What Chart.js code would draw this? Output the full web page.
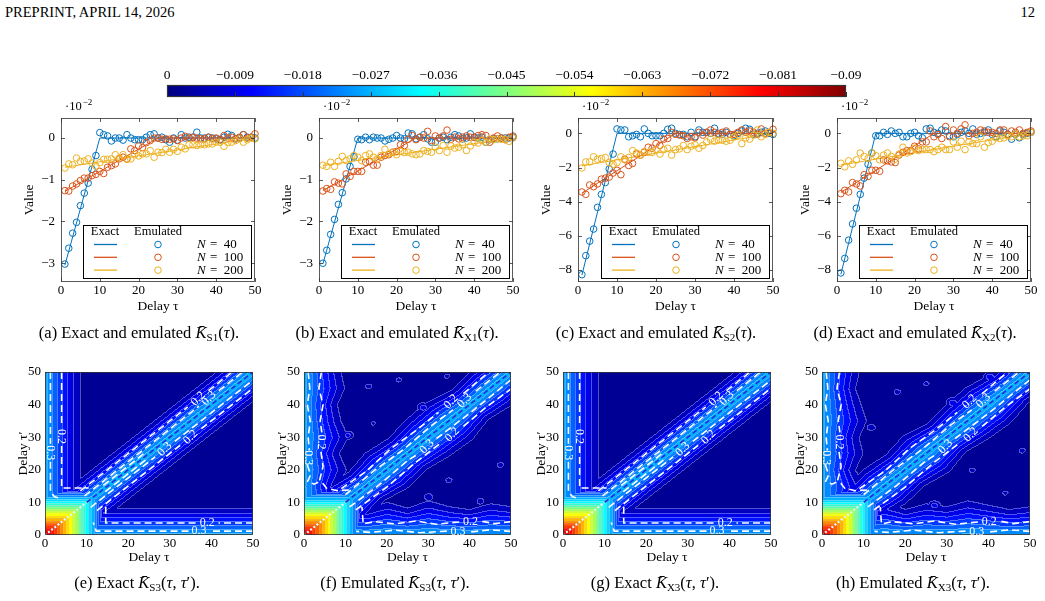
<!DOCTYPE html>
<html>
<head>
<meta charset="utf-8">
<title>Exact and emulated K statistics</title>
<script src="https://cdn.jsdelivr.net/npm/chart.js@4.4.1/dist/chart.umd.min.js"></script>
<style>
  html, body { margin: 0; padding: 0; background: #fff; }
  body { position: relative; width: 1045px; height: 601px; overflow: hidden;
         font-family: "Liberation Serif", "Times New Roman", serif; color: #000; }
  canvas { position: absolute; }
  .hdr { position: absolute; top: 4px; font-size: 14.5px; white-space: nowrap; }
  .cap { position: absolute; font-size: 16.5px; line-height: 18px; white-space: nowrap; transform: translateX(-50%); }
  .cap sub { font-size: 11px; vertical-align: -3px; line-height: 0; }
</style>
</head>
<body>
<div class="hdr" style="left:5px">PREPRINT, APRIL 14, 2026</div>
<div class="hdr" style="right:10px">12</div>

<canvas id="cbar"></canvas>
<canvas id="ks1"></canvas>
<canvas id="kx1"></canvas>
<canvas id="ks2"></canvas>
<canvas id="kx2"></canvas>
<canvas id="ks3e"></canvas>
<canvas id="ks3m"></canvas>
<canvas id="kx3e"></canvas>
<canvas id="kx3m"></canvas>

<div class="cap" style="left:139px;top:324px">(a) Exact and emulated <i>K̄</i><sub>S1</sub>(<i>τ</i>).</div>
<div class="cap" style="left:397px;top:324px">(b) Exact and emulated <i>K̄</i><sub>X1</sub>(<i>τ</i>).</div>
<div class="cap" style="left:656px;top:324px">(c) Exact and emulated <i>K̄</i><sub>S2</sub>(<i>τ</i>).</div>
<div class="cap" style="left:915px;top:324px">(d) Exact and emulated <i>K̄</i><sub>X2</sub>(<i>τ</i>).</div>
<div class="cap" style="left:137px;top:574px">(e) Exact <i>K̄</i><sub>S3</sub>(<i>τ</i>, <i>τ</i>′).</div>
<div class="cap" style="left:395px;top:574px">(f) Emulated <i>K̄</i><sub>S3</sub>(<i>τ</i>, <i>τ</i>′).</div>
<div class="cap" style="left:655px;top:574px">(g) Exact <i>K̄</i><sub>X3</sub>(<i>τ</i>, <i>τ</i>′).</div>
<div class="cap" style="left:913px;top:574px">(h) Emulated <i>K̄</i><sub>X3</sub>(<i>τ</i>, <i>τ</i>′).</div>

<script>
// ---------- axes / ticks ----------
const tau = Array.from({length: 50}, (_, i) => i + 1);
const delayTicks = [0, 10, 20, 30, 40, 50];
const smallTicks = [-3, -2, -1, 0];
const largeTicks = [-8, -6, -4, -2, 0];
const cbarTicks = [0, -0.009, -0.018, -0.027, -0.036, -0.045, -0.054, -0.063, -0.072, -0.081, -0.09];
const sampleSizes = [40, 100, 200];

// ---------- emulated values (x 1e-2), tau = 1..50 ----------
const ks1Blue = [-3.02,-2.64,-2.28,-2.02,-1.62,-1.32,-1.08,-0.75,-0.42,0.13,
  0.08,0.05,-0.07,0,0,-0.05,0.08,0,-0.04,-0.04,
  -0.04,0.02,0.08,0.10,0,0.02,-0.04,-0.10,0,-0.05,
  0.08,0,0.02,0.02,0.14,0,0,0.02,0,-0.02,
  -0.04,0.02,0.09,0.06,-0.02,0,0.08,0.02,0.02,0];
const ks1Red = [-1.26,-1.27,-1.15,-1.10,-1.02,-0.96,-0.96,-0.90,-0.87,-0.80,
  -0.85,-0.70,-0.66,-0.62,-0.50,-0.46,-0.50,-0.26,-0.30,-0.19,
  -0.23,-0.11,-0.06,0,0,-0.03,-0.02,-0.03,-0.02,-0.06,
  0,0.04,0,0.02,0,-0.02,-0.02,0.02,-0.02,0,
  -0.03,0.06,0,0.02,-0.02,0.02,0.08,0,0.02,0.10];
const ks1Yellow = [-0.72,-0.62,-0.64,-0.48,-0.56,-0.55,-0.50,-0.60,-0.67,-0.59,
  -0.51,-0.51,-0.50,-0.40,-0.48,-0.40,-0.51,-0.50,-0.40,-0.43,
  -0.38,-0.38,-0.30,-0.46,-0.34,-0.35,-0.27,-0.34,-0.27,-0.32,
  -0.22,-0.26,-0.16,-0.16,-0.18,-0.16,-0.16,-0.14,-0.14,-0.10,
  -0.10,-0.20,-0.11,-0.10,-0.06,-0.02,-0.10,-0.04,0,-0.02];

const kx1Blue = [-3.00,-2.69,-2.31,-1.95,-1.59,-1.31,-0.98,-0.68,-0.45,-0.03,
  -0.04,0.02,-0.04,0.02,0,0,-0.07,-0.03,0,0.06,
  0,-0.02,0.12,0.10,-0.02,0.02,0.08,-0.02,-0.10,-0.10,
  0,0.02,-0.04,0.02,0.08,0.05,-0.02,0,0.10,0.02,
  0,0.02,-0.10,-0.04,-0.02,-0.02,0,0,0,0.02];
const kx1Red = [-1.27,-1.21,-1.23,-1.05,-1.08,-1.10,-0.86,-0.92,-0.80,-0.80,
  -0.80,-0.58,-0.56,-0.65,-0.65,-0.46,-0.42,-0.40,-0.34,-0.32,
  -0.16,-0.18,-0.03,0.06,-0.04,0.02,0,0.16,-0.06,0.05,
  0,0.05,0.19,-0.03,0.02,-0.02,0.02,0.05,0.02,0.02,
  0.06,0.08,0.06,-0.10,0,0.05,0,-0.04,0.02,0.05];
const kx1Yellow = [-0.65,-0.68,-0.58,-0.68,-0.56,-0.44,-0.54,-0.50,-0.42,-0.46,
  -0.54,-0.42,-0.38,-0.46,-0.50,-0.42,-0.27,-0.38,-0.34,-0.40,
  -0.32,-0.35,-0.34,-0.38,-0.40,-0.38,-0.30,-0.32,-0.34,-0.22,
  -0.30,-0.18,-0.34,-0.19,-0.24,-0.22,-0.16,-0.30,-0.19,-0.10,
  -0.12,-0.06,-0.10,-0.03,-0.04,-0.02,-0.03,-0.04,-0.08,0];

const ks2Blue = [-8.27,-7.16,-6.31,-5.60,-4.33,-3.57,-2.88,-2.08,-1.21,0.26,
  0.20,0.20,-0.20,-0.14,-0.06,-0.20,0.26,0,-0.14,-0.14,
  -0.14,0,0.24,0.30,0,-0.06,-0.06,-0.20,0.06,-0.20,
  0.20,0.06,0.06,0,0.30,0,-0.06,0.06,-0.06,-0.14,
  0,0.14,0.30,0.24,-0.06,0,0.06,0.14,0,-0.06];
const ks2Red = [-3.43,-3.57,-3.02,-3.12,-2.96,-2.68,-2.62,-2.56,-2.32,-2.16,
  -2.42,-1.51,-1.88,-1.76,-1.21,-1.27,-1.11,-0.81,-0.87,-0.60,
  -0.71,-0.34,-0.30,0.06,-0.06,-0.10,-0.14,-0.30,-0.20,-0.26,
  0.06,-0.10,0.06,0.20,0.06,-0.06,0.06,0.14,-0.06,-0.06,
  0.06,0.20,0.06,0.14,0.06,-0.06,0.26,0,0.06,0.24];
const ks2Yellow = [-2.02,-1.67,-1.67,-1.37,-1.51,-1.47,-1.41,-1.71,-1.81,-1.71,
  -1.37,-1.55,-1.41,-1.01,-1.15,-1.27,-1.07,-1.11,-1.11,-0.95,
  -1.21,-0.95,-0.87,-1.27,-0.95,-0.91,-0.71,-0.95,-0.75,-0.67,
  -0.87,-0.71,-0.50,-0.34,-0.46,-0.40,-0.40,-0.46,-0.40,-0.20,
  -0.10,-0.60,-0.26,-0.34,-0.10,0.20,-0.20,-0.06,0.06,0];

const kx2Blue = [-8.17,-7.32,-6.25,-5.30,-4.38,-3.57,-2.62,-1.81,-1.15,-0.14,
  -0.14,0.06,-0.06,0.14,0,0.06,-0.20,-0.20,0,0.06,
  -0.14,-0.26,0.26,0.30,0.06,0,0.20,0.14,-0.14,-0.20,
  -0.06,0.06,0.14,0,0.26,-0.06,0,0.06,0.20,-0.06,
  -0.20,0.14,0.06,-0.06,-0.34,-0.06,-0.26,-0.06,0,0.06];
const kx2Red = [-3.53,-3.33,-3.43,-2.88,-2.96,-3.08,-2.42,-2.52,-2.16,-2.16,
  -2.22,-1.55,-1.61,-1.67,-1.71,-1.27,-1.11,-1.01,-1.01,-0.75,
  -0.91,-0.50,-0.50,0.14,-0.20,-0.06,-0.30,0.40,-0.20,0.20,
  0,0.26,0.50,-0.14,0,0.06,0.20,0.14,0.06,0.06,
  0,0.20,0.20,-0.06,0.14,0.06,0.20,0,0.06,0.14];
const kx2Yellow = [-1.75,-1.96,-1.61,-1.81,-1.55,-1.15,-1.35,-1.47,-1.15,-1.31,
  -1.55,-1.27,-1.15,-1.35,-1.51,-1.21,-0.81,-1.15,-1.07,-0.87,
  -1.01,-0.95,-0.95,-0.95,-1.07,-0.95,-0.81,-0.95,-0.95,-0.50,
  -0.81,-0.46,-0.95,-0.50,-0.60,-0.60,-0.20,-0.81,-0.54,-0.46,
  -0.26,-0.30,-0.26,-0.14,-0.20,-0.06,-0.20,-0.14,-0.14,0.06];

// ---------- exact curves (ramps), knots in tau ----------
const exactKnots40 = [1, 10, 50];
const exactKnots100 = [1, 25, 50];
const exactKnots200 = [1, 50];
const ks1Exact = [[-3.05, 0, 0], [-1.28, 0, 0], [-0.70, 0]];
const kx1Exact = [[-3.02, 0, 0], [-1.26, 0, 0], [-0.66, 0]];
const ks2Exact = [[-8.30, 0, 0], [-3.50, 0, 0], [-1.90, 0]];
const kx2Exact = [[-8.25, 0, 0], [-3.45, 0, 0], [-1.85, 0]];

// ---------- third-order maps: profiles ----------
const bandDist = [0,1,2,3,4,5,6,7,8,9,10,11,12];          // |tau - tau'|
const bandExact = [-0.028,-0.025,-0.022,-0.019,-0.016,-0.013,-0.010,-0.0075,-0.0052,-0.0034,-0.0018,-0.0005,0];
const bandEmu   = [-0.027,-0.025,-0.022,-0.019,-0.0163,-0.0135,-0.0108,-0.0083,-0.006,-0.0042,-0.0026,-0.0011,0];
const edgeDist = [0,1,2,3,4,5,6,7,8,9,10,11];               // min(tau, tau')
const edgeExact = [-0.027,-0.024,-0.021,-0.018,-0.015,-0.012,-0.009,-0.0065,-0.0042,-0.0024,-0.0009,0];
const edgeEmu   = [-0.026,-0.024,-0.021,-0.018,-0.0152,-0.0125,-0.0098,-0.0073,-0.0051,-0.0033,-0.0017,0];
const cornerDist = [0,1,2,3,4,5,6,7,8,9,10,11,12,13,14];   // max(tau, tau')
const cornerExact = [-0.084,-0.081,-0.077,-0.072,-0.067,-0.062,-0.057,-0.052,-0.046,-0.040,-0.034,-0.029,-0.024,-0.017,0];
const cornerEmu   = [-0.082,-0.079,-0.075,-0.071,-0.066,-0.061,-0.056,-0.051,-0.045,-0.039,-0.033,-0.028,-0.023,-0.016,0];
// irregularity of the emulated maps
const warpAt = [0,5,10,15,20,25,30,35,40,45,50];
const edgeWarpF = [1.0,1.0,1.05,0.9,1.15,0.95,1.2,1.0,0.9,1.1,1.0];
const bandWarpF = [1.0,1.0,1.1,0.92,1.12,1.0,1.15,1.2,0.95,1.08,1.0];
const edgeWarpH = [1.0,1.0,0.95,1.15,0.9,1.1,1.0,1.2,1.05,0.9,1.0];
const bandWarpH = [1.0,1.05,0.95,1.1,1.0,1.18,0.95,1.1,1.15,0.95,1.0];
const bumpTauF  = [15.5,22.8,10.8,16.7,34.9,42.4,47.4,28.4,34.5,30.0];
const bumpTauPF = [45.7,47.7,30.8,34.4,16.9,10.8,21.6,39.5,48.8,12.0];
const bumpDepthF = [-0.005,-0.0045,-0.005,-0.0042,-0.005,-0.0045,-0.005,-0.0042,-0.0045,-0.0048];
const bumpTauH  = [18.0,25.0,12.0,36.0,44.0,48.0,31.0,40.0,27.0];
const bumpTauPH = [44.0,46.5,33.0,20.0,13.0,26.0,41.0,49.0,9.5];
const bumpDepthH = [-0.005,-0.0045,-0.005,-0.0048,-0.0045,-0.005,-0.0042,-0.0045,-0.0048];

// white dashed contour overlays (tau, tau')
const contourExact = [
  [[1.3,50],[1.3,28]], [[1.3,22.5],[1.3,13.5],[2.2,11.8],[3.8,11.2]],
  [[4,50],[4,33.2]], [[4,27.3],[4,14.4],[10.5,14.4]],
  [[50,3.7],[41.7,3.7]], [[36.2,3.7],[14.6,3.7],[14.6,9.2]],
  [[50,1.2],[39.5,1.2]], [[34.5,1.2],[12.3,1.2],[11.6,3.8]],
  [[8.5,13.5],[34.3,39.3]], [[39.3,44.3],[45,50]],
  [[9.5,12],[37,39.5]], [[41.8,44.3],[47.5,50]],
  [[11,8.5],[26.5,24]], [[31.2,28.7],[50,47.5]],
  [[12.5,7.5],[32.5,27.5]], [[37.6,32.6],[50,45]],
  [[14,15.2],[24,25.2]], [[14.5,13.3],[24.5,23.3]]
];
const contourEmu = [
  [[1.0,50],[1.4,45],[0.8,40],[1.5,35],[1.0,30],[1.3,26]],
  [[0.8,21.5],[1.6,18.5],[0.9,16.5],[2.4,15.6],[3.5,16.2]],
  [[4.2,50],[3.6,45],[4.6,40],[3.9,35],[4.3,31.5]],
  [[4.1,25.5],[4.6,21],[3.8,17],[5.5,14.3],[8,13.6],[10.8,13.8]],
  [[50,4.1],[46,3.5],[43,4.2]],
  [[37.5,4.0],[32,3.3],[27,4.3],[22,3.4],[17,4.1],[14.3,3.4],[14.0,8.6]],
  [[50,1.1],[45,1.6],[40,0.9]],
  [[34.5,1.2],[28,0.7],[22,1.5],[16,0.8],[12.6,1.1]],
  [[9,14.2],[15,19.5],[21,26.5],[27,32],[32.5,37.6]],
  [[38.5,43.4],[44,49.3],[45,50]],
  [[10,12.4],[17,19.8],[24,26.2],[31,33.8],[36,38.4]],
  [[41.5,44.1],[48,50.6]],
  [[11,8.6],[18,15.2],[25,22.8],[27.5,24.8]],
  [[32,29.6],[40,37.3],[50,47.6]],
  [[12.5,7.7],[20,14.7],[27,22.3],[33,28.2]],
  [[38.5,33.3],[44,39.2],[50,44.8]]
];
const labelsExact = [
  {x: 1.3, y: 25.2, t: '0.3', r: 90}, {x: 4, y: 30.2, t: '0.2', r: 90},
  {x: 39, y: 3.7, t: '0.2', r: 0}, {x: 37, y: 1.2, t: '0.3', r: 0},
  {x: 36.8, y: 41.8, t: '0.2', r: -45}, {x: 39.4, y: 41.9, t: '0.3', r: -45},
  {x: 28.8, y: 26.3, t: '0.3', r: -45}, {x: 35, y: 30, t: '0.2', r: -45}
];
const labelsEmu = [
  {x: 1.1, y: 23.7, t: '0.3', r: 90}, {x: 4.2, y: 28.5, t: '0.2', r: 90},
  {x: 40.2, y: 4.0, t: '0.2', r: 0}, {x: 37.2, y: 1.1, t: '0.3', r: 0},
  {x: 35.5, y: 40.9, t: '0.2', r: -45}, {x: 38.8, y: 41.2, t: '0.3', r: -45},
  {x: 29.7, y: 27.1, t: '0.3', r: -45}, {x: 35.8, y: 30.8, t: '0.2', r: -45}
];

// ---------- styling ----------
const serif = '"Liberation Serif", "Times New Roman", serif';
const tickFont = {family: serif, size: 13};
const titleFont = {family: serif, size: 13.5};
const seriesColors = ['#0072BD', '#D95319', '#EDB120'];
const nLevels = 25, levelStep = 0.09 / 25, bumpRadius = 1.4;
const minus = v => (v < 0 ? '\u2212' + String(-v) : String(v));

const jetStops = [0, 0.125, 0.375, 0.625, 0.875, 1];
const jetRGB = [[0,0,128],[0,0,255],[0,255,255],[255,255,0],[255,0,0],[128,0,0]];
function jet(t) {
  t = Math.max(0, Math.min(1, t));
  for (let i = 1; i < jetStops.length; i++) {
    if (t <= jetStops[i]) {
      const f = (t - jetStops[i - 1]) / (jetStops[i] - jetStops[i - 1]);
      return jetRGB[i - 1].map((c, k) => Math.round(c + f * (jetRGB[i][k] - c)));
    }
  }
  return jetRGB[jetRGB.length - 1];
}

function interp(xs, ys, x) {
  if (x <= xs[0]) return ys[0];
  for (let i = 1; i < xs.length; i++) {
    if (x <= xs[i]) return ys[i - 1] + (x - xs[i - 1]) / (xs[i] - xs[i - 1]) * (ys[i] - ys[i - 1]);
  }
  return ys[ys.length - 1];
}

function fieldAt(f, a, b) {
  const d = Math.abs(a - b), m = Math.min(a, b), M = Math.max(a, b);
  const bw = f.bandWarp ? interp(warpAt, f.bandWarp, (a + b) / 2) : 1;
  const ew = f.edgeWarp ? interp(warpAt, f.edgeWarp, M) : 1;
  let v = Math.min(interp(bandDist, f.band, d / bw), interp(edgeDist, f.edge, m / ew), interp(cornerDist, f.corner, M));
  if (f.bumps) {
    f.bumps[0].forEach((bt, k) => {
      const r2 = ((a - bt) ** 2 + (b - f.bumps[1][k]) ** 2) / (bumpRadius * bumpRadius);
      if (r2 < 1) v += f.bumps[2][k] * (1 - r2);
    });
  }
  return v;
}

// ---------- plugins ----------
const framePlugin = {
  id: 'frame',
  afterDatasetsDraw(chart, args, opts) {
    const {ctx, chartArea: a, scales: {x, y}} = chart;
    ctx.save();
    ctx.strokeStyle = '#333';
    ctx.lineWidth = 0.8;
    if (opts.ticks) {
      ctx.beginPath();
      x.ticks.forEach(t => {
        const px = Math.round(x.getPixelForValue(t.value)) + 0.5;
        ctx.moveTo(px, a.bottom); ctx.lineTo(px, a.bottom - 4);
        ctx.moveTo(px, a.top); ctx.lineTo(px, a.top + 4);
      });
      y.ticks.forEach(t => {
        const py = Math.round(y.getPixelForValue(t.value)) + 0.5;
        ctx.moveTo(a.left, py); ctx.lineTo(a.left + 4, py);
        ctx.moveTo(a.right, py); ctx.lineTo(a.right - 4, py);
      });
      ctx.stroke();
    }
    ctx.strokeRect(a.left + 0.5, a.top + 0.5, a.right - a.left - 1, a.bottom - a.top - 1);
    ctx.restore();
  }
};

const exponentPlugin = {
  id: 'exponent',
  afterDraw(chart) {
    const {ctx, chartArea: a} = chart;
    ctx.save();
    ctx.fillStyle = '#000';
    ctx.textBaseline = 'alphabetic';
    ctx.font = '12.5px ' + serif;
    ctx.fillText('\u00b710', a.left + 4, a.top - 8);
    const w = ctx.measureText('\u00b710').width;
    ctx.font = '9px ' + serif;
    ctx.fillText('\u22122', a.left + 4 + w + 1, a.top - 13);
    ctx.restore();
  }
};

const tableLegendPlugin = {
  id: 'tableLegend',
  afterDatasetsDraw(chart, args, opts) {
    const {ctx, chartArea: a} = chart;
    const w = 168, h = 53;
    const x0 = Math.round(a.right - 4 - w), y0 = Math.round(a.bottom - 4 - h);
    ctx.save();
    ctx.fillStyle = '#fff';
    ctx.fillRect(x0, y0, w, h);
    ctx.strokeStyle = '#000';
    ctx.lineWidth = 1;
    ctx.strokeRect(x0 + 0.5, y0 + 0.5, w, h);
    ctx.fillStyle = '#000';
    ctx.textBaseline = 'middle';
    ctx.textAlign = 'center';
    ctx.font = '12.5px ' + serif;
    ctx.fillText('Exact', x0 + 22, y0 + 6.5);
    ctx.fillText('Emulated', x0 + 75, y0 + 6.5);
    opts.sizes.forEach((n, i) => {
      const yy = y0 + 19.5 + i * 12.8;
      ctx.strokeStyle = opts.colors[i];
      ctx.lineWidth = 1.3;
      ctx.beginPath(); ctx.moveTo(x0 + 11, yy); ctx.lineTo(x0 + 34, yy); ctx.stroke();
      ctx.lineWidth = 1;
      ctx.beginPath(); ctx.arc(x0 + 75, yy, 3.3, 0, Math.PI * 2); ctx.stroke();
      ctx.textAlign = 'left';
      ctx.fillStyle = '#000';
      ctx.font = 'italic 13px ' + serif;
      ctx.fillText('N', x0 + 114, yy);
      const nw = ctx.measureText('N').width;
      ctx.font = '13px ' + serif;
      ctx.fillText(' =  ' + n, x0 + 114 + nw + 1, yy);
      ctx.textAlign = 'center';
    });
    ctx.restore();
  }
};

const heatmapPlugin = {
  id: 'heatmap',
  beforeDatasetsDraw(chart, args, opts) {
    const {ctx, chartArea: a, scales: {x, y}} = chart;
    const w = Math.round(a.right - a.left), h = Math.round(a.bottom - a.top);
    const lev = new Int16Array(w * h);
    for (let j = 0; j < h; j++) {
      const tp = y.getValueForPixel(a.top + j + 0.5);
      for (let i = 0; i < w; i++) {
        const t = x.getValueForPixel(a.left + i + 0.5);
        const v = fieldAt(opts.field, t, tp);
        lev[j * w + i] = Math.max(0, Math.min(nLevels - 1, Math.floor(-v / levelStep)));
      }
    }
    const off = document.createElement('canvas');
    off.width = w; off.height = h;
    const octx = off.getContext('2d');
    const img = octx.createImageData(w, h);
    const lineRGB = [195, 210, 255];
    for (let j = 0; j < h; j++) {
      for (let i = 0; i < w; i++) {
        const k = j * w + i, L = lev[k];
        let c = jet((L + 0.5) / nLevels);
        const edge = (i > 0 && lev[k - 1] !== L) || (j > 0 && lev[k - w] !== L);
        if (edge) {
          const al = L < 12 ? 0.4 : 0.15;
          c = c.map((cc, q) => Math.round(cc * (1 - al) + lineRGB[q] * al));
        }
        img.data[k * 4] = c[0]; img.data[k * 4 + 1] = c[1]; img.data[k * 4 + 2] = c[2]; img.data[k * 4 + 3] = 255;
      }
    }
    octx.putImageData(img, 0, 0);
    ctx.drawImage(off, Math.round(a.left), Math.round(a.top));
  }
};

const contourLabelPlugin = {
  id: 'contourLabels',
  afterDatasetsDraw(chart, args, opts) {
    const {ctx, scales: {x, y}} = chart;
    ctx.save();
    ctx.fillStyle = '#fff';
    ctx.font = '12px ' + serif;
    ctx.textAlign = 'center';
    ctx.textBaseline = 'middle';
    opts.labels.forEach(l => {
      ctx.save();
      ctx.translate(x.getPixelForValue(l.x), y.getPixelForValue(l.y));
      ctx.rotate(l.r * Math.PI / 180);
      ctx.fillText(l.t, 0, 0);
      ctx.restore();
    });
    ctx.restore();
  }
};

const colorbarPlugin = {
  id: 'colorbar',
  beforeDatasetsDraw(chart) {
    const {ctx, chartArea: a, scales: {x}} = chart;
    ctx.save();
    for (let px = Math.round(a.left); px < Math.round(a.right); px++) {
      const c = jet(x.getValueForPixel(px + 0.5) / -0.09);
      ctx.fillStyle = 'rgb(' + c.join(',') + ')';
      ctx.fillRect(px, a.top, 1, a.bottom - a.top);
    }
    ctx.strokeStyle = '#333';
    ctx.lineWidth = 1;
    ctx.beginPath();
    x.ticks.forEach(t => {
      const px = Math.round(x.getPixelForValue(t.value)) + 0.5;
      ctx.moveTo(px, a.bottom); ctx.lineTo(px, a.bottom - 5);
    });
    ctx.stroke();
    ctx.lineWidth = 1.2;
    ctx.strokeRect(a.left + 0.5, a.top + 0.5, a.right - a.left - 1, a.bottom - a.top - 1);
    ctx.restore();
  }
};

// ---------- builders ----------
function placeCanvas(id, box, pad) {
  const cv = document.getElementById(id);
  cv.width = box.w + pad.l + pad.r;
  cv.height = box.h + pad.t + pad.b;
  cv.style.left = (box.l - pad.l) + 'px';
  cv.style.top = (box.t - pad.t) + 'px';
  return cv;
}

function axis(ticks, extra) {
  return Object.assign({
    type: 'linear',
    afterBuildTicks: s => { s.ticks = ticks.map(v => ({value: v})); },
    grid: {display: false, drawTicks: false},
    border: {display: false}
  }, extra);
}

function lineChart(id, box, yMin, yMax, yTicks, emulated, exact) {
  const pad = {l: 62, t: 26, r: 14, b: 42};
  const cv = placeCanvas(id, box, pad);
  const knots = [exactKnots40, exactKnots100, exactKnots200];
  const datasets = [];
  [2, 1, 0].forEach(k => datasets.push({
    data: tau.map((t, i) => ({x: t, y: emulated[k][i]})),
    showLine: false, pointRadius: 3.3, pointBorderWidth: 1, borderWidth: 1,
    borderColor: seriesColors[k], backgroundColor: 'rgba(0,0,0,0)', clip: false
  }));
  [2, 1, 0].forEach(k => datasets.push({
    data: knots[k].map((t, i) => ({x: t, y: exact[k][i]})),
    showLine: true, pointRadius: 0, borderWidth: 1, borderColor: seriesColors[k], clip: false
  }));
  return new Chart(cv, {
    type: 'scatter',
    data: {datasets},
    options: {
      responsive: false, animation: false, devicePixelRatio: 1,
      layout: {padding: {left: 0, top: pad.t, right: pad.r, bottom: 0}},
      plugins: {legend: {display: false}, tooltip: {enabled: false},
        frame: {ticks: true}, tableLegend: {sizes: sampleSizes, colors: seriesColors}},
      scales: {
        x: axis(delayTicks, {min: 0, max: 50,
          afterFit: s => { s.height = pad.b; },
          ticks: {font: tickFont, color: '#000', padding: 1, maxRotation: 0, autoSkip: false},
          title: {display: true, text: 'Delay τ', font: titleFont, color: '#000', padding: {top: 0, bottom: 9}}}),
        y: axis(yTicks, {min: yMin, max: yMax,
          afterFit: s => { s.width = pad.l; },
          ticks: {font: tickFont, color: '#000', padding: 6, autoSkip: false, callback: v => minus(v)},
          title: {display: true, text: 'Value', font: titleFont, color: '#000', padding: {top: 22, bottom: 0}}})
      }
    },
    plugins: [framePlugin, tableLegendPlugin, exponentPlugin]
  });
}

function heatChart(id, box, field, contours, labels) {
  const pad = {l: 50, t: 14, r: 14, b: 42};
  const cv = placeCanvas(id, box, pad);
  const datasets = contours.map(path => ({
    data: path.map(p => ({x: p[0], y: p[1]})),
    showLine: true, pointRadius: 0, borderWidth: 1.6, borderColor: '#fff', borderDash: [7, 4]
  }));
  datasets.push({data: [{x: 10, y: 10}, {x: 50, y: 50}], showLine: true, pointRadius: 0,
    borderWidth: 1.6, borderColor: '#2a2ad8', borderDash: [5, 3]});
  datasets.push({data: [{x: 0, y: 0}, {x: 10, y: 10}], showLine: true, pointRadius: 0,
    borderWidth: 2.2, borderColor: '#d8ffff', borderDash: [2, 2]});
  return new Chart(cv, {
    type: 'scatter',
    data: {datasets},
    options: {
      responsive: false, animation: false, devicePixelRatio: 1,
      layout: {padding: {left: 0, top: pad.t, right: pad.r, bottom: 0}},
      plugins: {legend: {display: false}, tooltip: {enabled: false},
        frame: {ticks: false}, heatmap: {field}, contourLabels: {labels}},
      scales: {
        x: axis(delayTicks, {min: 0, max: 50,
          afterFit: s => { s.height = pad.b; },
          ticks: {font: tickFont, color: '#000', padding: 1, maxRotation: 0, autoSkip: false},
          title: {display: true, text: 'Delay τ', font: titleFont, color: '#000', padding: {top: 0, bottom: 11}}}),
        y: axis(delayTicks, {min: 0, max: 50,
          afterFit: s => { s.width = pad.l; },
          ticks: {font: tickFont, color: '#000', padding: 4, autoSkip: false},
          title: {display: true, text: 'Delay τ′', font: titleFont, color: '#000', padding: {top: 20, bottom: 0}}})
      }
    },
    plugins: [heatmapPlugin, framePlugin, contourLabelPlugin]
  });
}

// ---------- colour bar ----------
(function () {
  const box = {l: 167, t: 85, w: 679, h: 12};
  const pad = {l: 20, t: 24, r: 24, b: 4};
  const cv = placeCanvas('cbar', box, pad);
  new Chart(cv, {
    type: 'scatter',
    data: {datasets: []},
    options: {
      responsive: false, animation: false, devicePixelRatio: 1,
      layout: {padding: {left: pad.l, top: 0, right: pad.r, bottom: pad.b}},
      plugins: {legend: {display: false}, tooltip: {enabled: false}},
      scales: {
        x: axis(cbarTicks, {position: 'top', min: -0.09, max: 0, reverse: true,
          afterFit: s => { s.height = pad.t; },
          ticks: {font: {family: serif, size: 13.5}, color: '#000', padding: 1, maxRotation: 0, autoSkip: false, callback: v => minus(v)}}),
        y: {display: false, min: 0, max: 1}
      }
    },
    plugins: [colorbarPlugin]
  });
})();

// ---------- panels ----------
lineChart('ks1', {l: 61, t: 118, w: 194, h: 164}, -3.45, 0.48, smallTicks, [ks1Blue, ks1Red, ks1Yellow], ks1Exact);
lineChart('kx1', {l: 319, t: 118, w: 194, h: 164}, -3.45, 0.48, smallTicks, [kx1Blue, kx1Red, kx1Yellow], kx1Exact);
lineChart('ks2', {l: 578, t: 118, w: 195, h: 164}, -8.7, 0.9, largeTicks, [ks2Blue, ks2Red, ks2Yellow], ks2Exact);
lineChart('kx2', {l: 837, t: 118, w: 194, h: 164}, -8.7, 0.9, largeTicks, [kx2Blue, kx2Red, kx2Yellow], kx2Exact);

const fieldExact = {band: bandExact, edge: edgeExact, corner: cornerExact};
const fieldEmuS = {band: bandEmu, edge: edgeEmu, corner: cornerEmu, bandWarp: bandWarpF, edgeWarp: edgeWarpF,
  bumps: [bumpTauF, bumpTauPF, bumpDepthF]};
const fieldEmuX = {band: bandEmu, edge: edgeEmu, corner: cornerEmu, bandWarp: bandWarpH, edgeWarp: edgeWarpH,
  bumps: [bumpTauH, bumpTauPH, bumpDepthH]};

heatChart('ks3e', {l: 45, t: 372, w: 208, h: 163}, fieldExact, contourExact, labelsExact);
heatChart('ks3m', {l: 304, t: 372, w: 207, h: 163}, fieldEmuS, contourEmu, labelsEmu);
heatChart('kx3e', {l: 563, t: 372, w: 208, h: 163}, fieldExact, contourExact, labelsExact);
heatChart('kx3m', {l: 822, t: 372, w: 208, h: 163}, fieldEmuX, contourEmu, labelsEmu);
</script>
</body>
</html>
